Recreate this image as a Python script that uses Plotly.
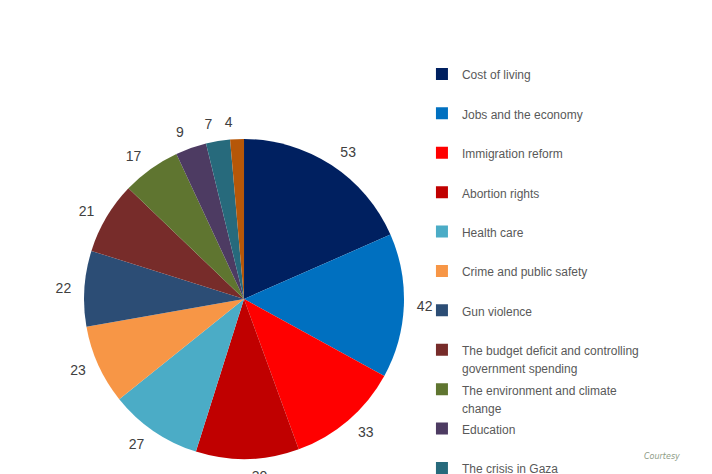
import plotly.graph_objects as go

# issue counts, clockwise from 12 o'clock
issues = [
    'Cost of living',
    'Jobs and the economy',
    'Immigration reform',
    'Abortion rights',
    'Health care',
    'Crime and public safety',
    'Gun violence',
    'The budget deficit and controlling<br>government spending',
    'The environment and climate<br>change',
    'Education',
    'The crisis in Gaza',
    'Other',
]
counts = [53, 42, 33, 30, 27, 23, 22, 21, 17, 9, 7, 4]
colors = ['#002060', '#0070C0', '#FF0000', '#C00000', '#4BACC6', '#F79646',
          '#2C4D75', '#772C2A', '#5F7530', '#4D3B62', '#276A7C', '#B65708']

# the thin slices at the top get their own label layer so plotly does not
# push their labels apart and draw leader lines
label_layers = [
    [v not in (7, 4) for v in counts],
    [v == 7 for v in counts],
    [v == 4 for v in counts],
]

PIE_DOMAIN = dict(x=[0.1080, 0.5625], y=[0.0322, 0.7189])
# slightly larger invisible pie, so the value labels sit further out
LABEL_DOMAIN = dict(x=[0.0952, 0.5753], y=[0.0129, 0.7382])


def legend_label(text):
    # each entry takes two lines so every legend row has the same height
    lines = ['<span style="font-size:12px">%s</span>' % s for s in text.split('<br>')]
    if len(lines) == 1:
        lines.append(' ')
    return '<br>'.join(lines)


labels = [legend_label(s) for s in issues]

fig = go.Figure()
fig.add_trace(go.Pie(
    labels=labels,
    values=counts,
    sort=False,
    direction='clockwise',
    rotation=0,
    marker=dict(colors=colors, line=dict(width=0)),
    textinfo='none',
    domain=PIE_DOMAIN,
    hoverinfo='label+value',
))

for shown in label_layers:
    fig.add_trace(go.Pie(
        labels=labels,
        values=counts,
        sort=False,
        direction='clockwise',
        rotation=0,
        marker=dict(colors=['rgba(0,0,0,0)'] * len(counts), line=dict(width=0)),
        textinfo='value',
        textposition=['outside' if s else 'none' for s in shown],
        textfont=dict(family='Liberation Sans, Arial, sans-serif', size=14, color='#404040'),
        domain=LABEL_DOMAIN,
        hoverinfo='skip',
        showlegend=False,
    ))

fig.add_annotation(
    text='<i>Courtesy</i>', x=0.929, y=0.0386, xref='paper', yref='paper',
    xanchor='center', yanchor='middle',
    showarrow=False, font=dict(family='DejaVu Sans', size=8, color='#8E9C86'),
)

# the page body adds an 8px margin, so the figure is 8px smaller than the window
fig.update_layout(
    width=704,
    height=466,
    margin=dict(l=0, r=0, t=0, b=0, autoexpand=False),
    paper_bgcolor='white',
    plot_bgcolor='white',
    showlegend=True,
    legend=dict(
        x=0.588, y=0.892, xanchor='left', yanchor='top',
        valign='top',
        font=dict(family='Liberation Sans, Arial, sans-serif', size=14, color='#595959'),
        maxheight=700,
        bgcolor='rgba(0,0,0,0)',
    ),
)

fig.write_html('out.html')
